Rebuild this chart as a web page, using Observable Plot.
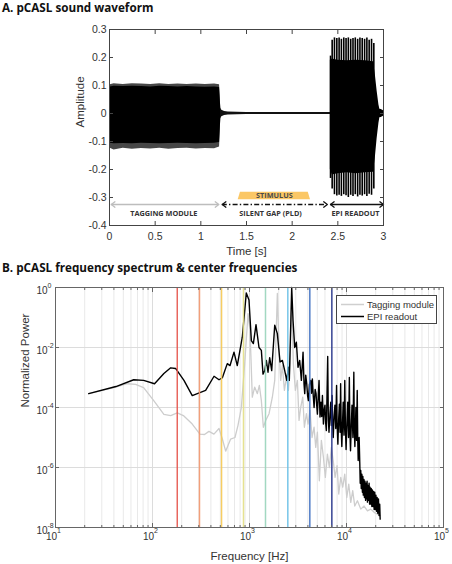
<!DOCTYPE html>
<html><head><meta charset="utf-8">
<script src="https://cdn.jsdelivr.net/npm/d3@7"></script>
<script src="https://cdn.jsdelivr.net/npm/@observablehq/plot@0.6"></script>
<style>
body{margin:0;background:#fff;width:452px;height:564px;position:relative;overflow:hidden;font-family:"Liberation Sans",Arial,sans-serif;}
.title{position:absolute;left:2px;font-family:"Open Sans",sans-serif;font-weight:700;font-size:11.7px;line-height:13px;color:#111;white-space:nowrap;z-index:2}
#A{position:absolute;left:0;top:14px}
#B{position:absolute;left:0;top:280px}
#legend{position:absolute;left:336px;top:295px;width:99px;height:27px;border:1px solid #444;background:#fff;font-size:9.5px;color:#333;z-index:3}
#legend div{position:absolute;left:30px;line-height:11px;white-space:nowrap}
</style></head><body>
<div id="A"></div>
<div id="B"></div>
<div class="title" style="top:1px">A. pCASL sound waveform</div>
<div class="title" style="top:260.7px">B. pCASL frequency spectrum &amp; center frequencies</div>
<div id="legend">
  <svg width="99" height="27" style="position:absolute;left:0;top:0">
    <line x1="4" x2="27" y1="8.5" y2="8.5" stroke="#cfcfcf" stroke-width="1.5"/>
    <line x1="4" x2="27" y1="20.5" y2="20.5" stroke="#000" stroke-width="1.5"/>
  </svg>
  <div style="top:3px">Tagging module</div>
  <div style="top:15px">EPI readout</div>
</div>
<script>
// ---------- Panel A data ----------
const timeTicks = [0, 0.5, 1, 1.5, 2, 2.5, 3];
const ampTicks = [-0.4, -0.3, -0.2, -0.1, 0, 0.1, 0.2, 0.3];

// tagging module waveform envelope
const tagTime    = [0.008, 0.05, 0.15, 0.25, 0.35, 0.45, 0.55, 0.65, 0.75, 0.85, 0.95, 1.05, 1.15, 1.205, 1.218];
const tagUpper   = [0.095, 0.097, 0.096, 0.097, 0.096, 0.095, 0.097, 0.096, 0.095, 0.096, 0.095, 0.094, 0.095, 0.093, 0.02];
const tagLower   = [-0.106, -0.108, -0.107, -0.108, -0.106, -0.107, -0.108, -0.107, -0.106, -0.107, -0.108, -0.107, -0.106, -0.104, -0.02];
const tagPeakUp  = [0.103, 0.106, 0.104, 0.106, 0.105, 0.104, 0.106, 0.104, 0.105, 0.104, 0.105, 0.104, 0.105, 0.103, 0.02];
const tagPeakLo  = [-0.124, -0.13, -0.124, -0.128, -0.125, -0.127, -0.124, -0.128, -0.125, -0.124, -0.127, -0.125, -0.126, -0.12, -0.02];

// silent gap
const gapTime  = [1.215, 1.23, 1.26, 1.3, 1.5, 1.8, 2.1, 2.4, 2.42];
const gapUpper = [0.02, 0.012, 0.007, 0.005, 0.004, 0.004, 0.004, 0.004, 0.004];
const gapLower = [-0.02, -0.012, -0.007, -0.005, -0.004, -0.004, -0.004, -0.004, -0.004];

// EPI readout core envelope
const epiTime  = [2.418, 2.44, 2.5, 2.6, 2.7, 2.8, 2.89, 2.91, 2.93, 2.95, 2.96, 2.975, 2.99, 3.0];
const epiUpper = [0.19, 0.195, 0.19, 0.188, 0.19, 0.188, 0.185, 0.14, 0.08, 0.03, 0.015, 0.014, 0.012, 0.01];
const epiLower = [-0.2, -0.22, -0.215, -0.212, -0.215, -0.212, -0.21, -0.16, -0.09, -0.035, -0.015, -0.014, -0.012, -0.01];
// EPI readout gradient spikes
const spikeTime = [2.42, 2.438, 2.463, 2.489, 2.514, 2.539, 2.565, 2.590, 2.615, 2.641, 2.666, 2.691, 2.717, 2.742, 2.767, 2.793, 2.818, 2.843, 2.869, 2.894];
const spikeHigh = [0.205, 0.262, 0.27, 0.268, 0.27, 0.265, 0.27, 0.268, 0.27, 0.265, 0.268, 0.27, 0.265, 0.27, 0.268, 0.265, 0.27, 0.262, 0.265, 0.25];
const spikeLow  = [-0.232, -0.27, -0.29, -0.295, -0.292, -0.296, -0.29, -0.294, -0.3, -0.292, -0.296, -0.29, -0.298, -0.292, -0.295, -0.29, -0.296, -0.288, -0.292, -0.27];

// annotations
const phaseLabels = ["TAGGING MODULE", "SILENT GAP (PLD)", "EPI READOUT"];
const phaseStart  = [0.02, 1.235, 2.42];
const phaseEnd    = [1.197, 2.385, 3.0];
const phaseLabelX = [0.594, 1.763, 2.693];
const phaseColor  = ["#bdbdbd", "#111", "#111"];
const arrowY = -0.325, phaseLabelY = -0.358;
const stimT = [1.409, 1.434, 2.176, 2.201];
const stimTop = [-0.308, -0.281, -0.281, -0.308];
const stimBase = -0.308;

// ---------- Panel B data ----------
const freqDecades = [10, 100, 1000, 10000, 100000];
const powerTicks = [1e-8, 1e-6, 1e-4, 1e-2, 1];
const centerFreqs = [180, 305, 515, 867, 1462, 2483, 4186, 7063];
const centerColors = ["#e5554d", "#f1956c", "#f6c851", "#e3df84", "#98d4ba", "#67bfe5", "#3d6ec0", "#22318a"];

const epiFreq = [22, 42, 64, 81, 105, 131, 154, 173, 211, 257, 290, 353, 431, 485, 525, 590, 630, 692, 748, 843,
  927, 988, 1045, 1096, 1167, 1253, 1325, 1378, 1435, 1492, 1552, 1615, 1694, 1820, 1937, 2064, 2182, 2307, 2420, 2515,
  2573, 2723, 2811, 2925, 3042, 3162, 3293, 3426, 3566,
  3650, 3710, 3800, 3890, 3970, 4046, 4150, 4276, 4360, 4446, 4540, 4633, 4750, 4856, 4930, 5012, 5100, 5213, 5280, 5333,
  5450, 5550, 5649, 5781, 5880, 6000, 6100, 6200, 6300, 6400, 6500, 6600, 6750, 6886, 6980, 7100, 7200, 7300, 7450, 7600,
  7750, 7900, 8000, 8150, 8300, 8450, 8580, 8700, 8820, 8950, 9100, 9250, 9420, 9600, 9750, 9900, 10100, 10300, 10500, 10700,
  10850, 11000, 11200, 11400, 11650, 11900, 12050, 12200, 12350, 12500, 12700, 12900, 13050, 13200, 13350, 13500, 13700, 13850, 14030, 14200,
  14400, 14590, 14750, 14900, 15140, 15300, 15500, 15740, 15900, 16100, 16300, 16440, 16650, 16850, 17100, 17300, 17500, 17780, 18000, 18250,
  18490, 18750, 19000, 19280, 19550, 19800, 20100, 20400, 20700, 21000, 21350, 21680, 22000, 22230];
const epiPower = [2.9e-4, 5.0e-4, 8.4e-4, 8.0e-4, 6.2e-4, 1.35e-3, 2.1e-3, 2.0e-3, 8e-4, 2.5e-4, 2.9e-4, 3.7e-4, 1.1e-3, 8.4e-4, 9.8e-4, 2.9e-3, 2.5e-3, 7e-3, 2.5e-3, 2.2e-2,
  0.66, 0.38, 1.7e-2, 1.35e-2, 5.8e-2, 1.0e-2, 8e-3, 1.3e-3, 1.7e-3, 3.7e-3, 1.5e-3, 4.6e-3, 1.7e-3, 5.5e-2, 2.9e-2, 3.3e-3, 3.7e-3, 1.7e-3, 8e-4, 2.2e-3,
  8e-4, 1.0, 8e-2, 1.0e-2, 1.5e-2, 2.2e-3, 3.7e-3, 8e-4, 7e-3,
  6e-4, 2.9e-4, 1.2e-3, 6.2e-4, 2.5e-4, 1.7e-4, 6e-4, 8e-4, 3e-4, 9e-4, 2.5e-4, 1.0e-4, 4e-4, 2.9e-4, 1.2e-4, 6e-5, 2e-4, 8e-4, 1.5e-4, 4.8e-5,
  1.5e-4, 5e-5, 2.5e-4, 2.8e-5, 8e-5, 1.2e-4, 3e-5, 1.7e-5, 3e-4, 5e-3, 4e-5, 1.5e-5, 6e-5, 1.5e-4, 2.5e-5, 2.5e-4, 3e-5, 1.0e-5, 5e-5, 1.2e-4,
  2e-5, 5.4e-4, 3e-5, 6e-6, 4e-5, 1.3e-4, 1.5e-5, 6.2e-4, 2e-5, 5e-6, 3e-5, 1.5e-4, 1.2e-5, 8e-4, 2e-5, 4e-6, 3e-5, 1.5e-4, 1e-5, 1.0e-3,
  1.5e-5, 3.6e-6, 2.5e-5, 1.2e-4, 1e-5, 1.5e-3, 1.5e-5, 5e-6, 2e-5, 1.0e-4, 8e-6, 3.7e-4, 1e-5, 1.7e-6, 8e-6, 1.0e-5, 1.5e-6, 3e-7, 8e-7, 2e-7,
  6e-7, 1.5e-7, 5e-7, 1.2e-7, 4e-7, 1e-7, 3.5e-7, 8e-8, 3e-7, 9e-8, 3.5e-7, 7e-8, 2.5e-7, 8e-8, 3e-7, 6e-8, 2.2e-7, 6e-8, 2e-7, 5e-8,
  1.8e-7, 5e-8, 1.6e-7, 4e-8, 1.5e-7, 4e-8, 1.2e-7, 3.5e-8, 1e-7, 3e-8, 9e-8, 2.5e-8, 6e-8, 1.9e-8];

const tagFreq = [22, 40, 55, 67, 81, 103, 131, 154, 180, 208, 257, 308, 344, 382, 430, 485, 525, 568, 639, 708,
  760, 824, 892, 966, 1012, 1069, 1130, 1205, 1263, 1325, 1389, 1469, 1590, 1720, 1820, 1937, 2014, 2097, 2182, 2290,
  2400, 2518, 2618, 2723, 2832, 2971, 3117, 3241, 3371, 3539, 3680, 3857, 4015, 4208, 4411, 4633, 4818, 5012, 5250, 5508,
  5781, 6053, 6353, 6663, 6983, 7329, 7624, 7996, 8318, 8726, 9146, 9594, 10070, 10550, 11070, 11590, 12160, 12960, 14030, 15170,
  16440, 17780, 19280, 20840, 22230];
const tagPower = [2.9e-4, 4.6e-4, 6.2e-4, 5.9e-4, 4.6e-4, 1.7e-4, 5.9e-5, 5.4e-5, 6.6e-5, 5.4e-5, 2.8e-5, 1.3e-5, 1.26e-5, 1.6e-5, 1.3e-5, 2.0e-5, 8.9e-6, 3.5e-6, 8.9e-6, 1.0e-5,
  2.5e-5, 1.0e-4, 2.9e-3, 0.135, 3.7e-2, 2.2e-4, 4.8e-4, 2.9e-4, 5.5e-4, 1.7e-4, 2.2e-5, 3.7e-5, 6.2e-5, 2.2e-4, 8e-4, 0.63, 1.0e-2, 8e-4, 2.5e-3, 3.7e-4,
  1.0e-3, 3.7e-4, 2.9e-3, 0.38, 2.9e-3, 3.7e-4, 8e-4, 3.7e-5, 1.0e-4, 2.2e-4, 2.2e-5, 6.2e-5, 2.8e-5, 8e-5, 1.0e-5, 2.2e-5, 4.7e-6, 1.5e-5, 3.6e-7, 8e-6,
  2.2e-6, 4.7e-7, 2.8e-6, 1.0e-6, 4.7e-6, 1.5e-6, 4.7e-7, 1.15e-6, 1.3e-7, 4.7e-7, 2.2e-7, 6e-7, 1e-7, 2.8e-7, 6.9e-8, 1.7e-7, 5.2e-8, 7.8e-8, 4.1e-8, 5.2e-8,
  3.6e-8, 4.1e-8, 3.2e-8, 2.8e-8, 2.5e-8];

// ---------- helpers ----------
const font = "'Liberation Sans', Arial, sans-serif";
const ink = "#333";
const env = (t, hi, lo) => t.map((x, i) => ({t: x, hi: hi[i], lo: lo[i]}));
const chevron = {draw(ctx, l) { ctx.moveTo(-l * 0.75, l); ctx.lineTo(0, 0); ctx.lineTo(l * 0.75, l); }};

// ---------- Panel A ----------
const spikes = spikeTime.map((t, i) => ({t, hi: spikeHigh[i], lo: spikeLow[i]}));
const stim = stimT.map((t, i) => ({t, y: stimTop[i]}));
const phases = phaseLabels.map((label, i) => ({label, x1: phaseStart[i], x2: phaseEnd[i], xl: phaseLabelX[i], color: phaseColor[i]}));
const heads = phases.flatMap(p => [{x: p.x1, r: -90, color: p.color}, {x: p.x2, r: 90, color: p.color}]);

const plotA = Plot.plot({
  width: 452, height: 246,
  marginLeft: 109, marginRight: 69, marginTop: 15, marginBottom: 35,
  x: {domain: [0, 3]},
  y: {domain: [-0.4, 0.3]},
  style: {fontFamily: font, fontSize: "10.5px", color: ink, background: "transparent", overflow: "visible"},
  marks: [
    Plot.areaY(env(tagTime, tagPeakUp, tagPeakLo), {x: "t", y1: "lo", y2: "hi", fill: "#000", fillOpacity: 0.72}),
    Plot.areaY(env(tagTime, tagUpper, tagLower), {x: "t", y1: "lo", y2: "hi", fill: "#000"}),
    Plot.areaY(env(gapTime, gapUpper, gapLower), {x: "t", y1: "lo", y2: "hi", fill: "#111"}),
    Plot.areaY(env(epiTime, epiUpper, epiLower), {x: "t", y1: "lo", y2: "hi", fill: "#000"}),
    Plot.ruleX(spikes, {x: "t", y1: "lo", y2: "hi", stroke: "#000", strokeWidth: 1.6}),
    // stimulus block
    Plot.areaY(stim, {x: "t", y1: stimBase, y2: "y", fill: "#fbc765"}),
    Plot.text(["STIMULUS"], {x: 1.805, y: -0.2945, fontFamily: "Open Sans", fontWeight: "bold", fontSize: 7.3, fill: "#4a4a4a"}),
    // phase arrows
    Plot.ruleY(phases.filter((d, i) => i !== 1), {y: arrowY, x1: "x1", x2: "x2", stroke: "color", strokeWidth: 1.3}),
    Plot.ruleY(phases.filter((d, i) => i === 1), {y: arrowY, x1: "x1", x2: "x2", stroke: "color", strokeWidth: 1.3, strokeDasharray: "5,2.2,1.4,2.2"}),
    Plot.vector(heads, {x: "x", y: arrowY, rotate: "r", length: 3.6, shape: chevron, anchor: "start", stroke: "color", strokeWidth: 1.3}),
    Plot.text(phases, {x: "xl", y: phaseLabelY, text: "label", fontFamily: "Open Sans", fontWeight: "bold", fontSize: 7.3, fill: "#333"}),
    Plot.frame({stroke: "#444"}),
    Plot.axisX({ticks: timeTicks, tickSize: 0, tickPadding: 7, tickFormat: d => String(d), label: null}),
    Plot.axisX({ticks: timeTicks, tickSize: -4, tickFormat: () => "", label: null, stroke: "#444"}),
    Plot.axisX({anchor: "top", ticks: timeTicks, tickSize: -4, tickFormat: () => "", label: null, stroke: "#444"}),
    Plot.axisY({ticks: ampTicks, tickSize: 0, tickPadding: 3, tickFormat: d => String(d), label: null}),
    Plot.axisY({ticks: ampTicks, tickSize: -4, tickFormat: () => "", label: null, stroke: "#444"}),
    Plot.axisY({anchor: "right", ticks: ampTicks, tickSize: -4, tickFormat: () => "", label: null, stroke: "#444"}),
    Plot.text(["Time [s]"], {frameAnchor: "bottom", dy: 26, lineAnchor: "middle", fontSize: 11.5, fill: ink}),
    Plot.text(["Amplitude"], {frameAnchor: "left", dx: -29, rotate: -90, lineAnchor: "middle", fontSize: 11.5, fill: ink})
  ]
});
document.getElementById("A").append(plotA);

// ---------- Panel B ----------
const minorFreq = freqDecades.slice(0, 4).flatMap(d => [2, 3, 4, 5, 6, 7, 8, 9].map(k => k * d));
const epi = epiFreq.map((f, i) => ({f, p: epiPower[i]}));
const tag = tagFreq.map((f, i) => ({f, p: tagPower[i]}));
const centers = centerFreqs.map((f, i) => ({f, c: centerColors[i]}));

const plotB = Plot.plot({
  width: 452, height: 284,
  marginLeft: 55, marginRight: 9, marginTop: 7, marginBottom: 37,
  x: {type: "log", domain: [10, 1e5]},
  y: {type: "log", domain: [1e-8, 1]},
  style: {fontFamily: font, fontSize: "10px", color: ink, background: "transparent", overflow: "visible"},
  marks: [
    Plot.gridX({ticks: minorFreq, stroke: "#e9e9e9", strokeOpacity: 1}),
    Plot.gridX({ticks: freqDecades, stroke: "#dcdcdc", strokeOpacity: 1}),
    Plot.gridY({ticks: [1e-2, 1e-4, 1e-6], stroke: "#dcdcdc", strokeOpacity: 1}),
    Plot.line(tag, {x: "f", y: "p", stroke: "#cdcdcd", strokeWidth: 1.3}),
    Plot.line(epi, {x: "f", y: "p", stroke: "#000", strokeWidth: 1.4}),
    Plot.ruleX(centers, {x: "f", stroke: "c", strokeWidth: 1.5, strokeOpacity: 0.9}),
    Plot.frame({stroke: "#666"}),
    Plot.axisX({ticks: freqDecades, tickSize: -4, tickFormat: () => "", label: null, stroke: "#666"}),
    Plot.axisX({ticks: minorFreq, tickSize: -2, tickFormat: () => "", label: null, stroke: "#666"}),
    Plot.axisX({anchor: "top", ticks: freqDecades, tickSize: -4, tickFormat: () => "", label: null, stroke: "#666"}),
    Plot.axisX({anchor: "top", ticks: minorFreq, tickSize: -2, tickFormat: () => "", label: null, stroke: "#666"}),
    Plot.axisY({ticks: powerTicks, tickSize: -4, tickFormat: () => "", label: null, stroke: "#666"}),
    Plot.axisY({anchor: "right", ticks: powerTicks, tickSize: -4, tickFormat: () => "", label: null, stroke: "#666"}),
    // tick labels with superscript exponents
    Plot.text(freqDecades, {x: d => d, frameAnchor: "bottom", text: () => "10", textAnchor: "end", dx: 1.5, dy: 9, lineAnchor: "middle", fontSize: 10, fill: ink}),
    Plot.text(freqDecades, {x: d => d, frameAnchor: "bottom", text: d => String(Math.round(Math.log10(d))), textAnchor: "start", dx: 1.5, dy: 3, lineAnchor: "middle", fontSize: 7, fill: ink}),
    Plot.text(powerTicks, {y: d => d, frameAnchor: "left", text: () => "10", textAnchor: "end", dx: -8, dy: 3, lineAnchor: "middle", fontSize: 10, fill: ink}),
    Plot.text(powerTicks, {y: d => d, frameAnchor: "left", text: d => String(Math.round(Math.log10(d))), textAnchor: "start", dx: -8, dy: -2, lineAnchor: "middle", fontSize: 7, fill: ink}),
    Plot.text(["Frequency [Hz]"], {frameAnchor: "bottom", dy: 29, lineAnchor: "middle", fontSize: 11.5, fill: ink}),
    Plot.text(["Normalized Power"], {frameAnchor: "left", dx: -30, rotate: -90, lineAnchor: "middle", fontSize: 11.5, fill: ink})
  ]
});
document.getElementById("B").append(plotB);
</script>
</body></html>
